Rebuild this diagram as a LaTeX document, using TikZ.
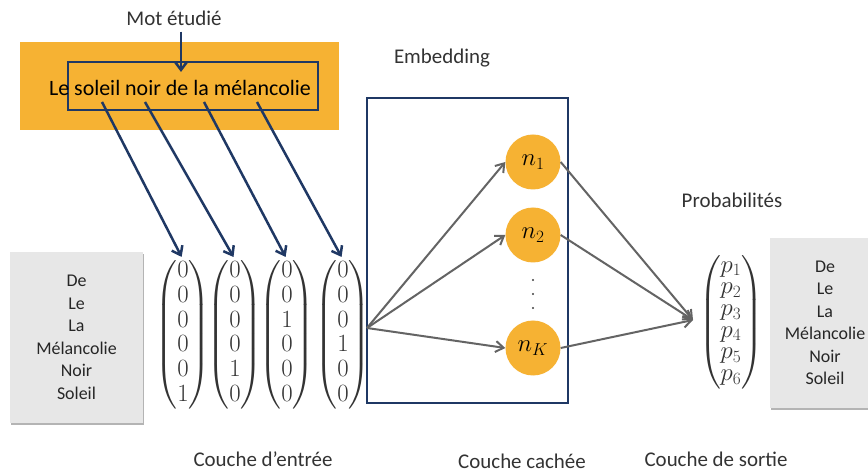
\documentclass[tikz,border=0pt]{standalone}
\usepackage{amsmath}
\usepackage{fontspec}
\setmainfont{Carlito}
\usetikzlibrary{arrows.meta}
\definecolor{orng}{RGB}{246,178,51}
\definecolor{navy}{RGB}{31,56,100}
\definecolor{arrgray}{RGB}{100,100,100}
\definecolor{boxgray}{RGB}{231,231,231}
\definecolor{shadgray}{RGB}{180,180,180}
\begin{document}
\begin{tikzpicture}[x=1bp,y=-1bp,
  lbl/.style={font=\fontsize{21}{25}\selectfont, inner sep=0pt, text=black!80},
  bluearrow/.style={draw=navy, line width=2.5bp, -{Straight Barb[length=8bp,width=12bp]}},
  grayarrow/.style={draw=arrgray, line width=2bp, -{Straight Barb[length=8bp,width=11bp]}},
  neuron/.style={circle, fill=orng, minimum size=55bp, inner sep=0pt, font=\fontsize{26}{30}\selectfont},
  listbox/.style={fill=boxgray, align=center, font=\fontsize{18}{22.6}\selectfont, inner sep=0pt, text=black!85},
  vec/.style={inner sep=0pt, font=\fontsize{23}{25}\selectfont, text=black!80},
  frame/.style={draw=navy, line width=2.5bp, inner sep=0pt}
]
\useasboundingbox (0,0) rectangle (868,473);
\fill[white] (0,0) rectangle (868,473);

% top banner
\node[fill=orng, minimum width=319bp, minimum height=88bp, inner sep=0pt] (banner) at (179.5,86) {};
\node[frame, minimum width=250bp, minimum height=48bp] (wordframe) at (193,86) {};
\node[lbl, font=\fontsize{22}{26}\selectfont, text=black] (sent) at (180,88) {Le soleil noir de la mélancolie};
\node[lbl] (mot) at (174,18) {Mot étudié};
\coordinate (motTip) at (181,72);
\draw[bluearrow, shorten <=6bp] (mot.south -| motTip) -- (motTip);

% input vectors
\node[vec] (v1) at (183,334.5) {$\begin{pmatrix}0\\0\\0\\0\\0\\1\end{pmatrix}$};
\node[vec] (v2) at (235,334.5) {$\begin{pmatrix}0\\0\\0\\0\\1\\0\end{pmatrix}$};
\node[vec] (v3) at (287,334.5) {$\begin{pmatrix}0\\0\\1\\0\\0\\0\end{pmatrix}$};
\node[vec] (v4) at (343,334.5) {$\begin{pmatrix}0\\0\\0\\1\\0\\0\end{pmatrix}$};

\coordinate (w1) at (102,102);
\coordinate (w2) at (145,102);
\coordinate (w3) at (204,102);
\coordinate (w4) at (257,102);
\draw[bluearrow, shorten >=3bp] (w1) -- (v1.north);
\draw[bluearrow, shorten >=3bp] (w2) -- (v2.north);
\draw[bluearrow, shorten >=3bp] (w3) -- (v3.north);
\draw[bluearrow, shorten >=3bp] (w4) -- (v4.north);

% left list box
\fill[shadgray] (11,254) rectangle (144,425);
\node[listbox, minimum width=133bp, minimum height=171bp] (inlist) at (76.5,337.5) {De\\Le\\La\\Mélancolie\\Noir\\Soleil};

% embedding box
\node[lbl] (emblbl) at (442,58) {Embedding};
\node[draw=navy, line width=2bp, minimum width=201bp, minimum height=305bp, inner sep=0pt] (embbox) at (467.5,250.5) {};

% neurons
\node[neuron] (n1) at (533,162) {$n_1$};
\node[neuron] (n2) at (533,235) {$n_2$};
\node[neuron] (nK) at (533,348) {$n_K$};
\fill[black!75] (533,280) circle (1.2bp) (533,294) circle (1.2bp) (533,308) circle (1.2bp);

\coordinate (src) at (367,328);
\coordinate (dst) at (693,320);
\draw[grayarrow] (src) -- (n1.west);
\draw[grayarrow] (src) -- (n2.west);
\draw[grayarrow] (src) -- (nK.west);
\draw[grayarrow] (n1.east) -- (dst);
\draw[grayarrow] (n2.east) -- (dst);
\draw[grayarrow] (nK.east) -- (dst);

% output
\node[lbl] (problbl) at (732,200) {Probabilités};
\node[vec, font=\fontsize{23}{21.8}\selectfont] (pv) at (731,322) {$\begin{pmatrix}p_1\\p_2\\p_3\\p_4\\p_5\\p_6\end{pmatrix}$};
\fill[shadgray] (771,240) rectangle (880,410);
\node[listbox, minimum width=110bp, minimum height=170bp, text width=110bp] (outlist) at (825,323) {De\\Le\\La\\Mélancolie\\Noir\\Soleil};

% bottom labels
\node[lbl] (lin) at (263,459) {Couche d’entrée};
\node[lbl] (lhid) at (522,461) {Couche cachée};
\node[lbl] (lout) at (716,459) {Couche de sortie};
\end{tikzpicture}
\end{document}
